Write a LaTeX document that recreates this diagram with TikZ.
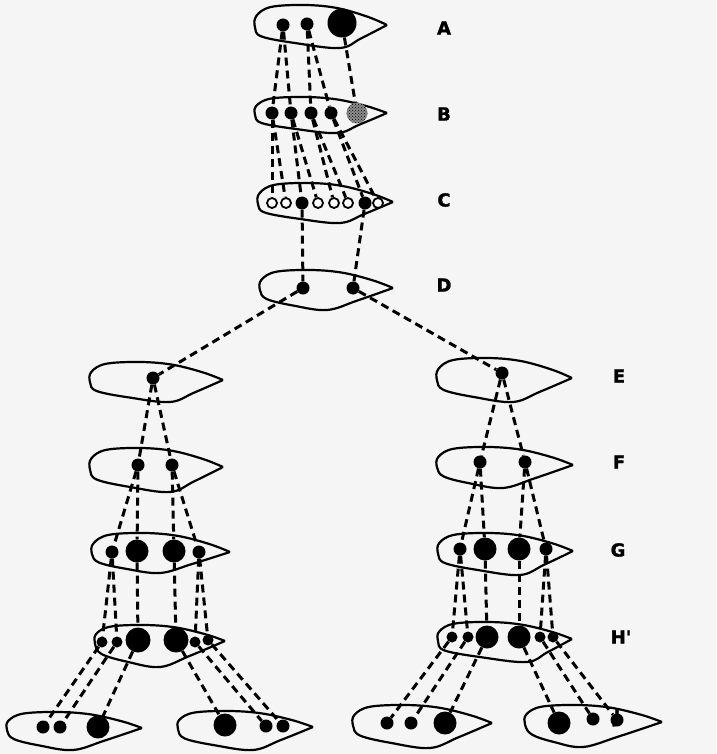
\documentclass[tikz,border=0pt]{standalone}
\usepackage{fontspec}
\newfontfamily\labfont{DejaVu Sans}[BoldFeatures={FakeBold=1.5}]
\usetikzlibrary{patterns}
\newcommand\mycell[6]{%
 \pgfmathsetmacro\cL{#1}\pgfmathsetmacro\cR{#2}\pgfmathsetmacro\cY{#3}%
 \pgfmathsetmacro\ca{#3-#4}\pgfmathsetmacro\cb{#5-#3}\pgfmathsetmacro\cw{#2-#1}\pgfmathsetmacro\cx{#6}%
 \draw[cellline] plot[smooth,tension=0.6] coordinates {
 (\cR,\cY)
 ({\cR-0.15*\cw},{\cY-0.42*\ca})
 ({\cR-0.38*\cw},{\cY-0.85*\ca})
 ({\cL+0.38*\cw},{\cY-\ca})
 ({\cL+0.12*\cw},{\cY-0.9*\ca})
 ({\cL+0.01*\cw},{\cY-0.45*\ca})
 (\cL,{\cY+0.1*\cb})
 ({\cL+0.05*\cw},{\cY+0.5*\cb})
 ({(\cL+\cx)/2},{\cY+0.8*\cb})
 (\cx,{\cY+\cb})
 ({\cx+0.45*(\cR-\cx)},{\cY+0.58*\cb})
 (\cR,\cY)
 };
}
\tikzset{
 dot/.style={circle,fill=black,inner sep=0pt,minimum size=13pt},
 bigdot/.style={dot,minimum size=23pt},
 opendot/.style={circle,draw,line width=1.8pt,fill=white,inner sep=0pt,minimum size=10pt},
 conn/.style={line width=3pt,dash pattern=on 8pt off 5pt},
 cellline/.style={line width=2.2pt,line join=round},
 lab/.style={font=\labfont\bfseries\fontsize{18}{18}\selectfont,inner sep=0pt}
}
\begin{document}
\begin{tikzpicture}[x=1pt,y=-1pt]
\fill[white!96!black] (0,0) rectangle (716,754);
\useasboundingbox (0,0) rectangle (716,754);
% cells
\mycell{255}{387}{25}{5}{48}{340}
\mycell{255}{387}{113}{97}{133}{337}
\mycell{258}{393}{202}{183}{223}{340}
\mycell{260}{393}{288}{270}{310}{327}
\mycell{90}{223}{380}{362}{402}{170}
\mycell{90}{223}{467}{448}{492}{170}
\mycell{92}{230}{552}{533}{573}{160}
\mycell{95}{225}{641}{625}{667}{160}
\mycell{437}{572}{378}{358}{402}{513}
\mycell{437}{573}{465}{447}{488}{503}
\mycell{438}{573}{551}{533}{575}{520}
\mycell{438}{572}{639}{622}{662}{527}
\mycell{7}{142}{728}{712}{750}{73}
\mycell{178}{313}{727}{711}{750}{253}
\mycell{353}{492}{723}{705}{748}{430}
\mycell{525}{662}{722}{705}{747}{583}
% dots
\node[dot] (a1) at (283,25) {};
\node[dot] (a2) at (307,24) {};
\node[dot,minimum size=29pt] (a3) at (342,23) {};
\node[dot] (b1) at (272,113) {};
\node[dot] (b2) at (291,113) {};
\node[dot] (b3) at (311,113) {};
\node[dot] (b4) at (331,113) {};
\node[circle,inner sep=0pt,minimum size=21pt,preaction={fill=black!45},pattern=crosshatch dots,pattern color=black] (b5) at (357,113) {};
\node[opendot] (c1) at (272,203) {};
\node[opendot] (c2) at (286,203) {};
\node[dot] (c3) at (302,203) {};
\node[opendot] (c4) at (318,203) {};
\node[opendot] (c5) at (334,203) {};
\node[opendot] (c6) at (348,203) {};
\node[dot] (c7) at (365,203) {};
\node[opendot] (c8) at (378,203) {};
\node[dot] (d1) at (303,288) {};
\node[dot] (d2) at (353,288) {};
\node[dot] (el) at (153,378) {};
\node[dot] (er) at (502,373) {};
\node[dot] (fl1) at (138,465) {};
\node[dot] (fl2) at (172,465) {};
\node[dot] (fr1) at (480,462) {};
\node[dot] (fr2) at (525,462) {};
\node[dot] (gl1) at (112,552) {};
\node[bigdot] (gl2) at (137,551) {};
\node[bigdot] (gl3) at (174,551) {};
\node[dot] (gl4) at (199,552) {};
\node[dot] (gr1) at (460,549) {};
\node[bigdot] (gr2) at (485,549) {};
\node[bigdot] (gr3) at (519,549) {};
\node[dot] (gr4) at (546,549) {};
\node[dot,minimum size=11pt] (hl1) at (102,642) {};
\node[dot,minimum size=11pt] (hl2) at (117,642) {};
\node[dot,minimum size=25pt] (hl3) at (138,640) {};
\node[dot,minimum size=25pt] (hl4) at (176,640) {};
\node[dot,minimum size=11pt] (hl5) at (195,642) {};
\node[dot,minimum size=11pt] (hl6) at (208,640) {};
\node[dot,minimum size=11pt] (hr1) at (452,637) {};
\node[dot,minimum size=11pt] (hr2) at (468,637) {};
\node[bigdot] (hr3) at (487,637) {};
\node[bigdot] (hr4) at (519,637) {};
\node[dot,minimum size=11pt] (hr5) at (540,637) {};
\node[dot,minimum size=11pt] (hr6) at (553,637) {};
\node[dot] (j11) at (43,727) {};
\node[dot] (j12) at (60,727) {};
\node[bigdot] (j13) at (98,727) {};
\node[bigdot] (j21) at (225,725) {};
\node[dot] (j22) at (266,726) {};
\node[dot] (j23) at (283,726) {};
\node[dot] (j31) at (387,723) {};
\node[dot] (j32) at (411,723) {};
\node[bigdot] (j33) at (445,723) {};
\node[bigdot] (j41) at (559,723) {};
\node[dot] (j42) at (593,719) {};
\node[dot] (j43) at (617,720) {};
% connectors
\draw[conn] (a1) -- (b1); \draw[conn] (a1) -- (b2);
\draw[conn] (a2) -- (b3); \draw[conn] (a2) -- (b4);
\draw[conn] (a3) -- (b5);
\draw[conn] (b1) -- (c1); \draw[conn] (b1) -- (c2);
\draw[conn] (b2) -- (c3); \draw[conn] (b2) -- (c4);
\draw[conn] (b3) -- (c5); \draw[conn] (b3) -- (c6);
\draw[conn] (b4) -- (c7); \draw[conn] (b4) -- (c8);
\draw[conn] (c3) -- (d1); \draw[conn] (c7) -- (d2);
\draw[conn] (d1) -- (el); \draw[conn] (d2) -- (er);
\draw[conn] (el) -- (fl1); \draw[conn] (el) -- (fl2);
\draw[conn] (er) -- (fr1); \draw[conn] (er) -- (fr2);
\draw[conn] (fl1) -- (gl1); \draw[conn] (fl1) -- (gl2);
\draw[conn] (fl2) -- (gl3); \draw[conn] (fl2) -- (gl4);
\draw[conn] (fr1) -- (gr1); \draw[conn] (fr1) -- (gr2);
\draw[conn] (fr2) -- (gr3); \draw[conn] (fr2) -- (gr4);
\draw[conn] (gl1) -- (hl1); \draw[conn] (gl1) -- (hl2);
\draw[conn] (gl2) -- (hl3); \draw[conn] (gl3) -- (hl4);
\draw[conn] (gl4) -- (hl5); \draw[conn] (gl4) -- (hl6);
\draw[conn] (gr1) -- (hr1); \draw[conn] (gr1) -- (hr2);
\draw[conn] (gr2) -- (hr3); \draw[conn] (gr3) -- (hr4);
\draw[conn] (gr4) -- (hr5); \draw[conn] (gr4) -- (hr6);
\draw[conn] (hl1) -- (j11); \draw[conn] (hl2) -- (j12); \draw[conn] (hl3) -- (j13);
\draw[conn] (hl4) -- (j21); \draw[conn] (hl5) -- (j22); \draw[conn] (hl6) -- (j23);
\draw[conn] (hr1) -- (j31); \draw[conn] (hr2) -- (j32); \draw[conn] (hr3) -- (j33);
\draw[conn] (hr4) -- (j41); \draw[conn] (hr5) -- (j42); \draw[conn] (hr6) -- (j43);
% labels
\node[lab] (la) at (444,28) {A};
\node[lab] (lb) at (444,114) {B};
\node[lab] (lc) at (444,200) {C};
\node[lab] (ld) at (444,285) {D};
\node[lab] (le) at (619,376) {E};
\node[lab] (lf) at (619,462) {F};
\node[lab] (lg) at (618,550) {G};
\node[lab] (lh) at (621,637) {H'};
\node[lab] (lj) at (617,718) {J};
\end{tikzpicture}
\end{document}
